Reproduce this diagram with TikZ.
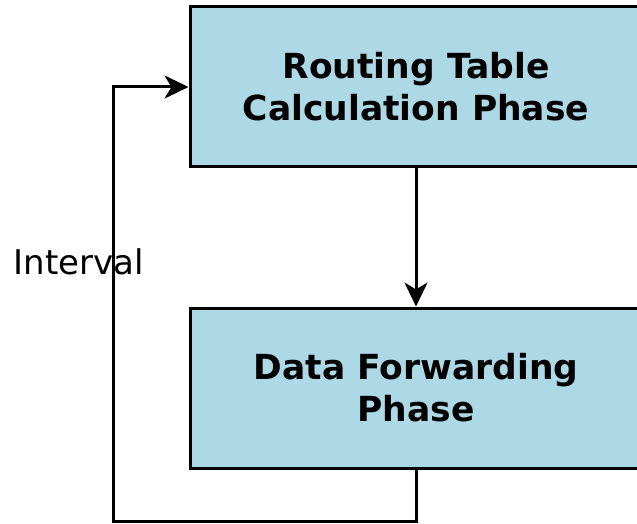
\documentclass[tikz,border=0pt]{standalone}
\usepackage{fontspec}
\setmainfont{DejaVu Sans}
\usetikzlibrary{arrows.meta}
\definecolor{phaseblue}{HTML}{ADD8E6}

\begin{document}
\begin{tikzpicture}[x=1pt, y=1pt,
	phase/.style={draw, line width=3pt, fill=phaseblue, align=center,
		minimum width=452pt, minimum height=160pt, font=\fontsize{34.5}{42}\selectfont\bfseries},
	flow/.style={line width=3pt, -{Stealth[length=24pt,width=23pt,inset=7pt]}}]
	\clip (0,0) rectangle (637,523);
	\node[phase] (calc) at (416,436) {Routing Table\\Calculation Phase};
	\node[phase] (fwd)  at (416,135) {Data Forwarding\\Phase};
	\coordinate (back) at (113,2);
	\draw[flow] (calc) -- (fwd);
	\draw[flow] (fwd.south) |- (back) |- (calc.west);
	\node[font=\fontsize{34}{40}\selectfont] (interval) at (79,261) {Interval};
\end{tikzpicture}
\end{document}
